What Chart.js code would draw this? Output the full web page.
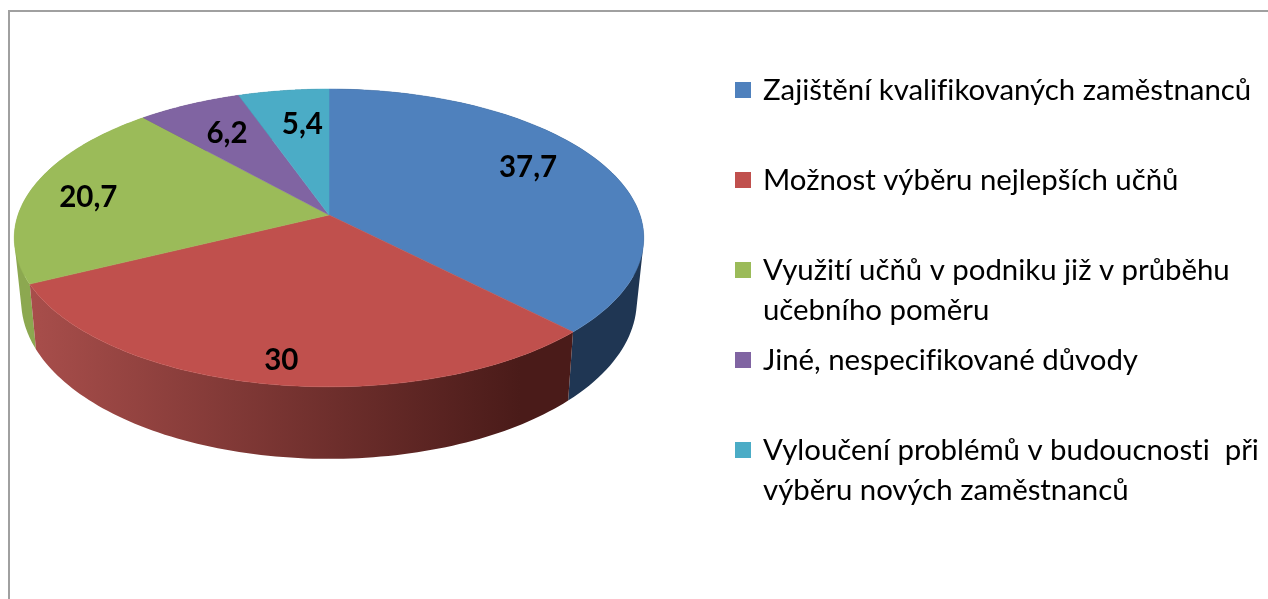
<!DOCTYPE html>
<html lang="cs">
<head>
<meta charset="utf-8">
<style>
html,body{margin:0;padding:0;background:#fff;overflow:hidden}
#wrap{position:relative;width:1268px;height:599px}
#frame{position:absolute;left:8px;top:10px;width:1300px;height:700px;border:2px solid #a0a0a0;box-sizing:border-box}
canvas{position:absolute;left:0;top:0;filter:blur(.45px)}
</style>
<script src="https://cdn.jsdelivr.net/npm/chart.js@4"></script>
</head>
<body>
<div id="wrap"><div id="frame"></div><canvas id="c" width="1268" height="599"></canvas></div>
<script>
const categories = [
  ["Zajištění kvalifikovaných zaměstnanců"],
  ["Možnost výběru nejlepších učňů"],
  ["Využití učňů v podniku již v průběhu", "učebního poměru"],
  ["Jiné, nespecifikované důvody"],
  ["Vyloučení problémů v budoucnosti  při", "výběru nových zaměstnanců"]
];
const values = [37.7, 30, 20.7, 6.2, 5.4];
const topColors = ["#4F81BD", "#C0504D", "#9BBB59", "#8064A2", "#4BACC6"];
const sideColors = [
  ["#1F3653", "#1F3653"],
  ["#A84E4B", "#4A1B19"],
  ["#8CA850", "#7D9A46"],
  ["#4D3C62", "#4D3C62"],
  ["#2D6778", "#2D6778"]
];
const labelRadii = [0.72, 0.87, 0.8, 0.72, 0.71];
const labelOffsets = [[0, -10], [5, 2], [-2, 4], [2, 1], [7, 1]];
const legendRows = [91, 181, 271, 361, 451];

const persp = -0.154, tilt = 0.361;
function unit(a) {
  const t = a + Math.PI / 2;
  return [Math.sin(t), -Math.cos(t)];
}
function topPt(el, a, f) {
  const u = unit(a), R = el.outerRadius;
  const x = u[0] * f, y = u[1] * f, w = 1 + persp * y;
  return [el.x + R * x / w, (el.y + tilt * R * y) / w];
}
function botPt(el, a) {
  const u = unit(a), p = topPt(el, a, 1);
  return [p[0] - 7 * u[0], p[1] + 60 + 12 * u[1]];
}
function samples(el) {
  const n = 90, out = [];
  for (let i = 0; i <= n; i++) out.push(el.startAngle + (el.endAngle - el.startAngle) * i / n);
  return out;
}
function addQuad(ctx, q) {
  let area = 0;
  q.forEach((p, i) => { const r = q[(i + 1) % 4]; area += p[0] * r[1] - r[0] * p[1]; });
  const pts = area < 0 ? q.slice().reverse() : q;
  pts.forEach((p, i) => i ? ctx.lineTo(p[0], p[1]) : ctx.moveTo(p[0], p[1]));
  ctx.closePath();
}
const pie3d = {
  id: 'pie3d',
  beforeDatasetDraw(chart) {
    const ctx = chart.ctx, arcs = chart.getDatasetMeta(0).data;
    ctx.save();
    [3, 4, 2, 0, 1].forEach(i => {
      const el = arcs[i], as = samples(el);
      const g = ctx.createLinearGradient(30, 0, 520, 0);
      g.addColorStop(0, sideColors[i][0]);
      g.addColorStop(1, sideColors[i][1]);
      ctx.fillStyle = g;
      ctx.beginPath();
      for (let k = 0; k < as.length - 1; k++) {
        addQuad(ctx, [topPt(el, as[k], 1), topPt(el, as[k + 1], 1), botPt(el, as[k + 1]), botPt(el, as[k])]);
      }
      ctx.fill('nonzero');
    });
    arcs.forEach((el, i) => {
      ctx.fillStyle = topColors[i];
      ctx.strokeStyle = topColors[i];
      ctx.lineWidth = 0.5;
      ctx.beginPath();
      ctx.moveTo(el.x, el.y);
      samples(el).forEach(a => { const p = topPt(el, a, 1); ctx.lineTo(p[0], p[1]); });
      ctx.closePath();
      ctx.fill();
      ctx.stroke();
    });
    ctx.restore();
    return false;
  },
  afterDatasetsDraw(chart) {
    const ctx = chart.ctx, arcs = chart.getDatasetMeta(0).data;
    ctx.save();
    ctx.fillStyle = '#000';
    ctx.textAlign = 'center';
    ctx.textBaseline = 'middle';
    ctx.font = 'bold 29.5px Lato';
    arcs.forEach((el, i) => {
      const p = topPt(el, (el.startAngle + el.endAngle) / 2, labelRadii[i]);
      ctx.fillText(String(values[i]).replace('.', ','), p[0] + labelOffsets[i][0], p[1] + labelOffsets[i][1]);
    });
    ctx.textAlign = 'left';
    ctx.font = '29.4px Lato';
    ctx.letterSpacing = '-0.02px';
    categories.forEach((lines, i) => {
      const cy = legendRows[i];
      ctx.fillStyle = topColors[i];
      ctx.fillRect(735, cy - 9, 16, 16);
      ctx.fillStyle = '#000';
      lines.forEach((ln, k) => ctx.fillText(ln, 763, cy + k * 40));
    });
    ctx.restore();
  }
};
new Chart(document.getElementById('c'), {
  type: 'pie',
  data: { labels: categories, datasets: [{ data: values, backgroundColor: topColors, borderWidth: 0 }] },
  options: {
    responsive: false,
    animation: false,
    radius: 311,
    layout: { padding: { left: 0, top: 0, right: 610, bottom: 169 } },
    plugins: { legend: { display: false }, tooltip: { enabled: false } }
  },
  plugins: [pie3d]
});
</script>
</body>
</html>
